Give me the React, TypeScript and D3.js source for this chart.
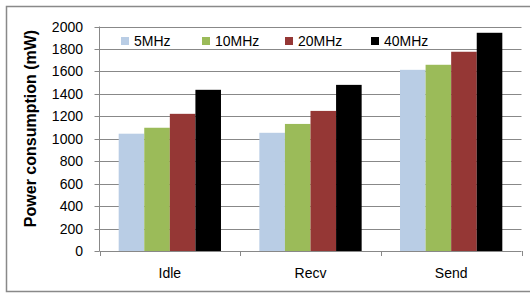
import React from "react";
import * as d3 from "d3";

const categories = ["Idle", "Recv", "Send"];
const seriesNames = ["5MHz", "10MHz", "20MHz", "40MHz"];
const values5 = [1045, 1053, 1614];
const values10 = [1098, 1132, 1659];
const values20 = [1222, 1248, 1775];
const values40 = [1436, 1480, 1944];
const yTicks = [0, 200, 400, 600, 800, 1000, 1200, 1400, 1600, 1800, 2000];
const colors = ["#B9CDE5", "#9BBB59", "#953735", "#000000"];

const seriesValues = [values5, values10, values20, values40];

export default function App() {
  const W = 530, H = 293;
  const left = 99.5, right = 521.5, top = 26.5, bottom = 251;
  const x = d3.scaleBand<string>().domain(categories).range([left, right]).paddingInner(0).paddingOuter(0);
  const bw = x.bandwidth();
  const barW = bw / 5.5;
  const y = d3.scaleLinear().domain([0, 2000]).range([bottom, top]);
  const font = "'Liberation Sans', Arial, sans-serif";
  const legendX = [121, 202, 285, 371];

  return (
    <svg width={W} height={H} style={{ position: "absolute", left: 0, top: 0 }}>
      <rect x={0} y={0} width={W} height={H} fill="#fff" />
      <path d={`M${W},6.5 H6.5 V291.5 H${W}`} fill="none" stroke="#898989" strokeWidth={1.5} />
      {yTicks.map((t) => (
        <g key={t}>
          {t > 0 && (
            <line x1={left} x2={right} y1={Math.round(y(t)) + 0.5} y2={Math.round(y(t)) + 0.5} stroke="#888" strokeWidth={1} />
          )}
          <line x1={left - 5} x2={left} y1={Math.round(y(t)) + 0.5} y2={Math.round(y(t)) + 0.5} stroke="#888" />
          <text x={83} y={y(t)} dy="0.36em" textAnchor="end" fontFamily={font} fontSize={14} fill="#000">
            {t}
          </text>
        </g>
      ))}
      <line x1={left} x2={left} y1={top} y2={bottom} stroke="#888" />
      {categories.map((c, ci) =>
        seriesValues.map((vals, si) => (
          <rect
            key={c + si}
            x={(x(c) as number) + barW * 0.75 + si * barW}
            y={y(vals[ci])}
            width={barW}
            height={bottom - y(vals[ci])}
            fill={colors[si]}
          />
        ))
      )}
      <line x1={left} x2={right} y1={bottom + 0.5} y2={bottom + 0.5} stroke="#888" />
      {[...categories.map((c) => x(c) as number), right].map((px, i) => (
        <line key={i} x1={Math.round(px) + 0.5} x2={Math.round(px) + 0.5} y1={bottom} y2={bottom + 5} stroke="#888" />
      ))}
      {categories.map((c) => (
        <text key={c} x={(x(c) as number) + bw / 2} y={273} dy="0.36em" textAnchor="middle" fontFamily={font} fontSize={14} fill="#000">
          {c}
        </text>
      ))}
      {seriesNames.map((s, i) => (
        <g key={s}>
          <rect x={legendX[i]} y={37} width={8} height={8} fill={colors[i]} />
          <text x={legendX[i] + 13} y={41} dy="0.36em" fontFamily={font} fontSize={14} fill="#000">
            {s}
          </text>
        </g>
      ))}
      <text
        transform={`translate(30,128.5) rotate(-90)`}
        textAnchor="middle"
        dy="0.36em"
        fontFamily={font}
        fontSize={16}
        fontWeight="bold"
        fill="#000"
      >
        Power consumption (mW)
      </text>
    </svg>
  );
}
